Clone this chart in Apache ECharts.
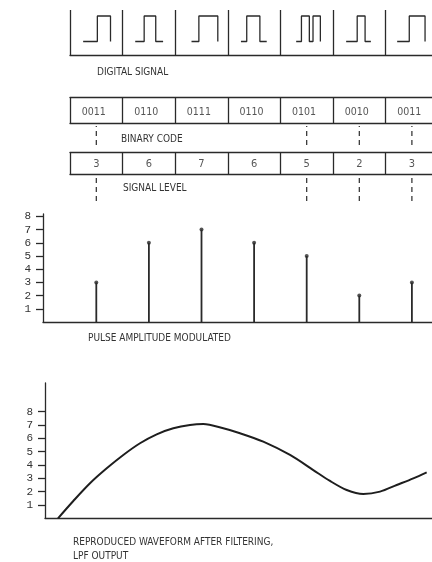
<!DOCTYPE html>
<html><head><meta charset="utf-8">
<script src="https://cdn.jsdelivr.net/npm/echarts@6/dist/echarts.min.js"></script>
<style>html,body{margin:0;padding:0;background:#fff}#c{width:432px;height:562px}</style>
</head><body><div id="c"></div>
<script>
// ---------- data ----------
const BINARY_CODES = ['0011', '0110', '0111', '0110', '0101', '0010', '0011'];
const SIGNAL_LEVELS = [3, 6, 7, 6, 5, 2, 3];
const PAM_VALUES = [3, 6, 7, 6, 5, 2, 3];
const Y_TICKS = [1, 2, 3, 4, 5, 6, 7, 8];
const DASH_COLUMNS = [0, 4, 5, 6];
// pulse shape drawn inside each box: [position within box (0..1), level (0/1)]
const DIGITAL_WAVES = [
  [[0.25, 0], [0.52, 0], [0.52, 1], [0.77, 1], [0.77, 0]],
  [[0.24, 0], [0.41, 0], [0.41, 1], [0.63, 1], [0.63, 0], [0.77, 0]],
  [[0.31, 0], [0.45, 0], [0.45, 1], [0.81, 1], [0.81, 0]],
  [[0.25, 0], [0.36, 0], [0.36, 1], [0.61, 1], [0.61, 0], [0.74, 0]],
  [[0.30, 0], [0.40, 0], [0.40, 1], [0.55, 1], [0.55, 0], [0.62, 0], [0.62, 1], [0.76, 1], [0.76, 0]],
  [[0.25, 0], [0.46, 0], [0.46, 1], [0.61, 1], [0.61, 0], [0.72, 0]],
  [[0.22, 0], [0.45, 0], [0.45, 1], [0.75, 1], [0.75, 0]]
];
// reproduced (low-pass filtered) waveform, x in sample-box units
const LPF_X = [-0.228, 0.063, 0.380, 0.698, 1.013, 1.331, 1.648, 1.964, 2.281, 2.534, 2.914, 3.232, 3.675, 4.183, 4.625, 4.943, 5.260, 5.576, 5.894, 6.211, 6.527, 6.781];
const LPF_Y = [0, 1.30, 2.63, 3.75, 4.75, 5.63, 6.30, 6.75, 7.00, 7.07, 6.75, 6.38, 5.75, 4.75, 3.62, 2.80, 2.12, 1.82, 2.00, 2.50, 3.00, 3.45];
const TEXTS = {
  digital: 'DIGITAL SIGNAL',
  binary: 'BINARY CODE',
  level: 'SIGNAL LEVEL',
  pam: 'PULSE AMPLITUDE MODULATED',
  lpf1: 'REPRODUCED WAVEFORM AFTER FILTERING,',
  lpf2: 'LPF OUTPUT'
};

// ---------- layout / style ----------
const W = 432, X0 = 70, BW = 52.6;
const INK = '#2a2a2a';
const FONT = "'Liberation Sans Narrow','DejaVu Sans Condensed','Liberation Mono',monospace";
const MONO = "'Liberation Mono','DejaVu Sans Mono',monospace";
const xRange = left => ({ min: (left - X0) / BW, max: (W - X0) / BW });

function hiddenX(gi, left, extra) {
  const r = xRange(left);
  return Object.assign({
    type: 'value', gridIndex: gi, min: r.min, max: r.max,
    axisLine: { show: false, onZero: false }, axisTick: { show: false }, axisLabel: { show: false },
    splitLine: { show: false }
  }, extra || {});
}
function boxX(gi, position, splits) {
  return hiddenX(gi, X0, {
    position: position, interval: 1,
    axisLine: { show: true, onZero: false, lineStyle: { color: INK, width: 1.3 } },
    splitLine: { show: splits, showMaxLine: false, lineStyle: { color: INK, width: 1.3 } }
  });
}
function hiddenY(gi, min, max) {
  return { type: 'value', gridIndex: gi, min: min, max: max, show: false,
    axisLine: { onZero: false }, splitLine: { show: false } };
}
function levelY(gi, max) {
  return {
    type: 'value', gridIndex: gi, min: 0, max: max,
    axisLine: { show: true, onZero: false, lineStyle: { color: INK, width: 1.3 } },
    axisTick: { show: true, customValues: Y_TICKS, length: 7, lineStyle: { color: INK, width: 1.3 } },
    axisLabel: { show: true, customValues: Y_TICKS, margin: 12, color: '#333', fontFamily: MONO, fontSize: 11 },
    splitLine: { show: false }
  };
}
function label(text, left, top, size) {
  return { text: text, left: left, top: top, padding: 0,
    textStyle: { fontFamily: FONT, fontSize: size || 10, fontWeight: 'normal', color: '#333', lineHeight: 12 } };
}

const grids = [
  { left: X0, right: 0, top: 10, height: 45 },   // 0 digital signal
  { left: X0, right: 0, top: 97, height: 26 },   // 1 binary code
  { left: X0, right: 0, top: 152, height: 22 },  // 2 signal level
  { left: X0, right: 0, top: 126, height: 19 },  // 3 dashes under binary
  { left: X0, right: 0, top: 178, height: 23 },  // 4 dashes under level
  { left: 43, right: 0, top: 214, height: 108 }, // 5 PAM
  { left: 45, right: 0, top: 383, height: 135.3 } // 6 LPF
];

const xAxes = [
  boxX(0, 'bottom', true),
  boxX(1, 'bottom', true), boxX(1, 'top', false),
  boxX(2, 'bottom', true), boxX(2, 'top', false),
  hiddenX(3, X0), hiddenX(4, X0),
  hiddenX(5, 43, { axisLine: { show: true, onZero: false, lineStyle: { color: INK, width: 1.3 } } }),
  hiddenX(6, 45, { axisLine: { show: true, onZero: false, lineStyle: { color: INK, width: 1.3 } } })
];
const yAxes = [
  hiddenY(0, -0.53, 1.235),
  hiddenY(1, 0, 1), hiddenY(2, 0, 1), hiddenY(3, 0, 1), hiddenY(4, 0, 1),
  levelY(5, 108 / 13.2),
  levelY(6, 135.3 / 13.33)
];

const series = [];
DIGITAL_WAVES.forEach((w, k) => {
  series.push({ type: 'line', xAxisIndex: 0, yAxisIndex: 0, symbol: 'none',
    data: w.map(p => [k + p[0], p[1]]), lineStyle: { color: INK, width: 1.3 } });
});
series.push({ type: 'scatter', xAxisIndex: 1, yAxisIndex: 1, symbolSize: 1,
  itemStyle: { color: 'transparent' },
  data: BINARY_CODES.map((c, k) => [k + 0.45, 0.4]),
  label: { show: true, position: 'inside', formatter: p => BINARY_CODES[p.dataIndex],
    fontFamily: FONT, fontSize: 10.5, color: '#2a2a2a' } });
series.push({ type: 'scatter', xAxisIndex: 3, yAxisIndex: 2, symbolSize: 1,
  itemStyle: { color: 'transparent' },
  data: SIGNAL_LEVELS.map((v, k) => [k + 0.5, 0.45]),
  label: { show: true, position: 'inside', formatter: p => String(SIGNAL_LEVELS[p.dataIndex]),
    fontFamily: FONT, fontSize: 11, color: '#2a2a2a' } });
[[5, 3], [6, 4]].forEach(([xi, yi]) => {
  DASH_COLUMNS.forEach(c => {
    series.push({ type: 'line', xAxisIndex: xi, yAxisIndex: yi, symbol: 'none',
      data: [[c + 0.5, 0], [c + 0.5, 1]],
      lineStyle: { color: INK, width: 1.2, type: [5, 4] } });
  });
});
series.push({ type: 'bar', xAxisIndex: 7, yAxisIndex: 5, barWidth: 1.8,
  data: PAM_VALUES.map((v, k) => [k + 0.5, v]), itemStyle: { color: INK } });
series.push({ type: 'scatter', xAxisIndex: 7, yAxisIndex: 5, symbolSize: 4,
  data: PAM_VALUES.map((v, k) => [k + 0.5, v]), itemStyle: { color: INK } });
series.push({ type: 'line', xAxisIndex: 8, yAxisIndex: 6, symbol: 'none', smooth: 0.3,
  data: LPF_X.map((x, i) => [x, LPF_Y[i]]), lineStyle: { color: '#1e1e1e', width: 2 } });

const option = {
  backgroundColor: '#fff',
  animation: false,
  title: [
    label(TEXTS.digital, 97, 66),
    label(TEXTS.binary, 121, 133),
    label(TEXTS.level, 123, 182),
    label(TEXTS.pam, 88, 332),
    label(TEXTS.lpf1, 73, 536),
    label(TEXTS.lpf2, 73, 550)
  ],
  grid: grids,
  xAxis: xAxes,
  yAxis: yAxes,
  series: series.map(s => Object.assign({ silent: true }, s))
};
const chart = echarts.init(document.getElementById('c'), null, { renderer: 'canvas' });
chart.setOption(option);
</script></body></html>
